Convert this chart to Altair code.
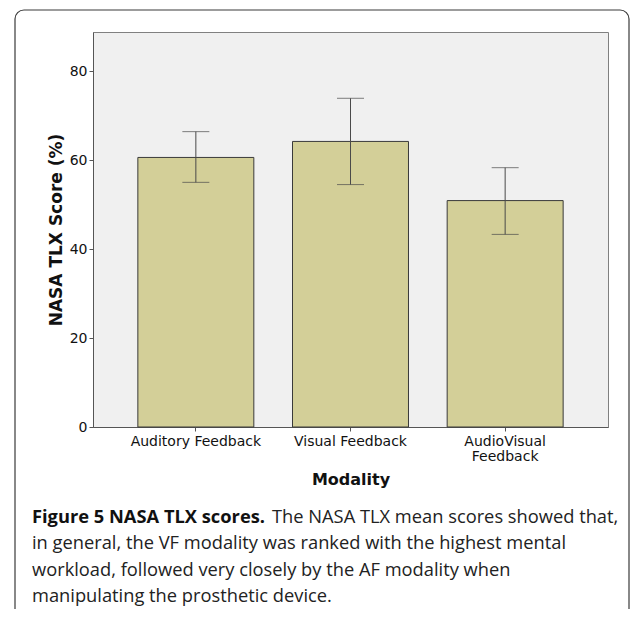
import altair as alt
import pandas as pd

categories = ["Auditory Feedback", "Visual Feedback", "AudioVisual Feedback"]
means = [60.6, 64.2, 50.9]
lower = [55.0, 54.5, 43.3]
upper = [66.4, 73.9, 58.3]
y_ticks = [0, 20, 40, 60, 80]

caption_bold = "Figure 5 NASA TLX scores."
caption_lines = [
    "The NASA TLX mean scores showed that,",
    "in general, the VF modality was ranked with the highest mental",
    "workload, followed very closely by the AF modality when",
    "manipulating the prosthetic device.",
]

df = pd.DataFrame({"cat": categories, "mean": means, "lower": lower, "upper": upper})

W, H = 515, 395
AX_FONT = "DejaVu Sans"
CAP_FONT = "Open Sans"
CAP_SIZE = 18.3

x = alt.X(
    "cat:N",
    sort=categories,
    scale=alt.Scale(paddingInner=0.25, paddingOuter=0.29),
    axis=alt.Axis(
        title="Modality",
        labelAngle=0,
        labelExpr="datum.value == 'AudioVisual Feedback' ? ['AudioVisual', 'Feedback'] : datum.value",
        labelLineHeight=15,
        labelPadding=3,
        bandPosition=0.5,
        titlePadding=8,
        titleFontSize=16,
    ),
)
y = alt.Y(
    "mean:Q",
    scale=alt.Scale(domain=[0, 88.8], nice=False, zero=True),
    axis=alt.Axis(values=y_ticks, title="NASA TLX Score (%)", grid=False,
                  titlePadding=4, titleFontSize=17, labelPadding=2),
)

base = alt.Chart(df)
bars = base.mark_bar(fill="#d3cf98", stroke="#3a3a3a", strokeWidth=1).encode(x=x, y=y)
rule = base.mark_rule(color="#4a4a4a", strokeWidth=1).encode(x=alt.X("cat:N", sort=categories), y="lower:Q", y2="upper:Q")
cap_hi = base.mark_tick(color="#4a4a4a", size=27, thickness=1).encode(x=alt.X("cat:N", sort=categories), y="upper:Q")
cap_lo = base.mark_tick(color="#4a4a4a", size=27, thickness=1).encode(x=alt.X("cat:N", sort=categories), y="lower:Q")

one = alt.Data(values=[{"k": 1}])
frame = alt.Chart(one).mark_rect(
    fillOpacity=0, stroke="#3a3a3a", strokeWidth=1.2, cornerRadius=9, clip=False
).encode(x=alt.value(-78), x2=alt.value(536), y=alt.value(-22), y2=alt.value(640))

LX = -61
LY0 = 486
DY = 26.4
cap_b = alt.Chart(one).mark_text(
    align="left", baseline="middle", font=CAP_FONT, fontSize=CAP_SIZE, fontWeight="bold", color="#111"
).encode(x=alt.value(LX), y=alt.value(LY0), text=alt.value(caption_bold))
cap_parts = [cap_b]
for i, line in enumerate(caption_lines):
    cap_parts.append(
        alt.Chart(one).mark_text(
            align="left", baseline="middle", font=CAP_FONT, fontSize=CAP_SIZE, color="#222"
        ).encode(x=alt.value(LX + (240 if i == 0 else 0)), y=alt.value(LY0 + DY * i), text=alt.value(line))
    )

chart = alt.layer(bars, rule, cap_hi, cap_lo, frame, *cap_parts).properties(
    width=W, height=H,
    autosize=alt.AutoSizeParams(type="none"),
    padding={"left": 85, "top": 24, "right": 23, "bottom": 182},
    background="white",
).configure_view(
    fill="#f0f0f0", stroke="#808080", strokeWidth=1
).configure_axis(
    labelFont=AX_FONT, labelFontSize=14, labelColor="#111",
    titleFont=AX_FONT, titleFontWeight="bold", titleColor="#111",
    domainColor="#555", tickColor="#555", tickSize=4,
)

chart.save("out.html", embed_options={"renderer": "svg", "actions": False})
